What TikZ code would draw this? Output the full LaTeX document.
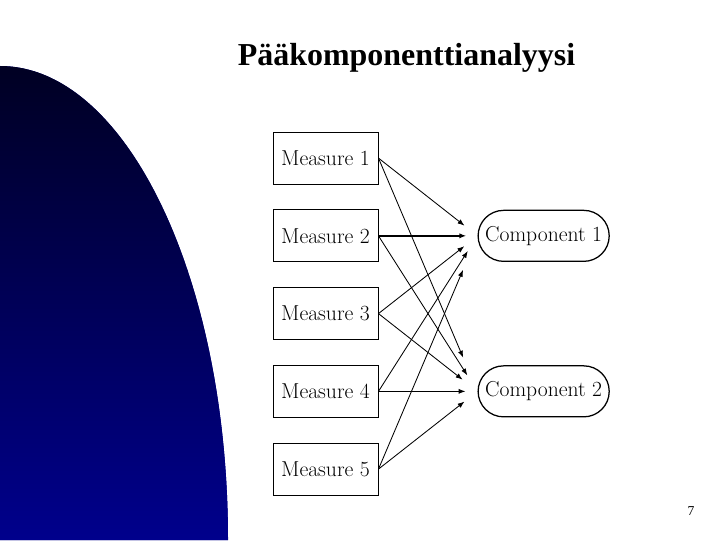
\documentclass[tikz,border=0pt]{standalone}
\usepackage{fontspec}
\usepackage{tikz}
\usetikzlibrary{arrows.meta,positioning}
\newfontfamily\titlefont{Liberation Serif}
\definecolor{slidenavy}{RGB}{0,0,140}

\begin{document}
\begin{tikzpicture}[>={Latex[length=2.3mm,width=1.7mm]},
  measurebox/.style={draw,line width=0.9pt,minimum width=3.5cm,minimum height=1.73cm,inner sep=0pt,font=\fontsize{20.5}{24}\selectfont},
  componentbox/.style={draw,line width=1.2pt,rounded corners=0.85cm,minimum width=4.37cm,minimum height=1.7cm,inner sep=0pt,font=\fontsize{20.5}{24}\selectfont},
  loadarrow/.style={->,line width=0.8pt}]
  \useasboundingbox (0,0) rectangle (24,18);
  % blue quarter ellipse on the left
  \fill[slidenavy] (0,0) -- (0,15.8) arc[start angle=90,end angle=0,x radius=7.6,y radius=15.8] -- cycle;
  \begin{scope}
    \clip (0,0) -- (0,15.8) arc[start angle=90,end angle=0,x radius=7.6,y radius=15.8] -- cycle;
    \shade[top color=black,bottom color=slidenavy] (0,0) rectangle (7.6,21);
  \end{scope}
  \node[anchor=base,font=\titlefont\bfseries\fontsize{30.3}{34}\selectfont] (title) at (13.55,15.83) {Pääkomponenttianalyysi};
  % measures and components
  \node[measurebox] (m1) at (10.85,12.73) {Measure 1};
  \node[measurebox,below=0.83cm of m1] (m2) {Measure 2};
  \node[measurebox,below=0.83cm of m2] (m3) {Measure 3};
  \node[measurebox,below=0.83cm of m3] (m4) {Measure 4};
  \node[measurebox,below=0.83cm of m4] (m5) {Measure 5};
  \node[componentbox,right=3.3cm of m2] (c1) {Component 1};
  \node[componentbox,right=3.3cm of m4] (c2) {Component 2};
  \foreach \i/\j/\s/\w in {1/1/0.55/0.8,2/1/0.37/1.5,3/1/0.56/0.8,4/1/0.6/0.8,5/1/1.23/0.8,
                           1/2/1.22/0.8,2/2/0.63/0.8,3/2/0.63/0.8,4/2/0.4/0.8,5/2/0.55/0.8}
    \draw[loadarrow,line width=\w pt,shorten >=\s cm] (m\i.east) -- (c\j.west);
  \node[anchor=base,font=\titlefont\fontsize{12.9}{15}\selectfont] (page) at (23.03,0.83) {7};
\end{tikzpicture}
\end{document}
